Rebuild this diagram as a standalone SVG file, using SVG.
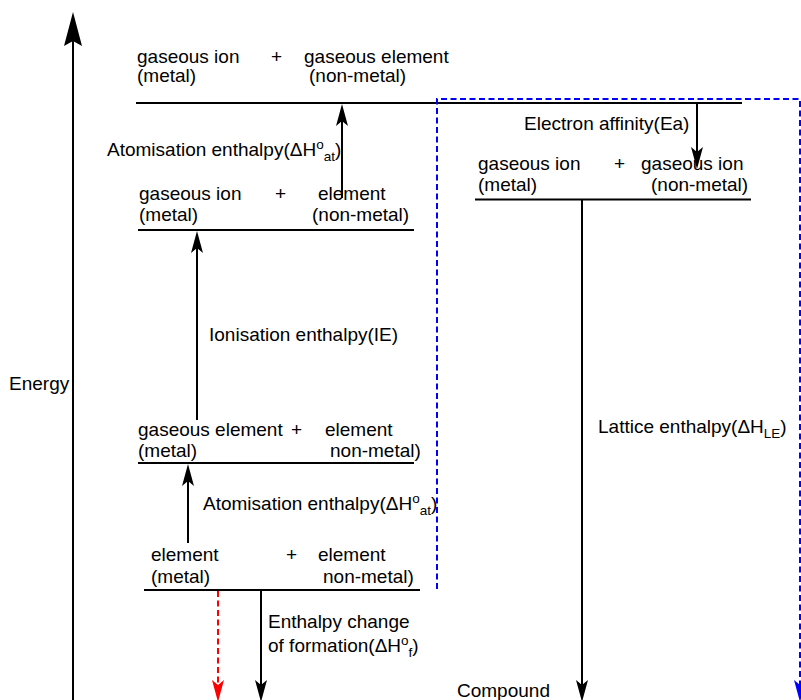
<svg xmlns="http://www.w3.org/2000/svg" width="801" height="700" viewBox="0 0 801 700">
  <style>
    text { font-family: "Liberation Sans", Arial, sans-serif; font-size: 19px; fill: #000; }
    .sm { font-size: 13.5px; }
    .level { stroke: #000; stroke-width: 2; fill: none; }
    .arrow { stroke: #000; stroke-width: 2; fill: none; }
    .red { stroke: #ff0000; stroke-width: 2; fill: none; stroke-dasharray: 6 3.5; }
    .blue { stroke: #0000ff; stroke-width: 2; fill: none; stroke-dasharray: 6 3.5; }
  </style>
  <defs>
    <marker id="head" viewBox="-24 -7 26 14" markerWidth="26" markerHeight="14" refX="-10" refY="0" orient="auto" markerUnits="userSpaceOnUse">
      <path d="M0,0 L-22,-6 L-17,0 L-22,6 Z" fill="#000"/>
    </marker>
    <marker id="head-red" viewBox="-24 -7 26 14" markerWidth="26" markerHeight="14" refX="-10" refY="0" orient="auto" markerUnits="userSpaceOnUse">
      <path d="M0,0 L-22,-6 L-17,0 L-22,6 Z" fill="#ff0000"/>
    </marker>
    <marker id="head-blue" viewBox="-24 -7 26 14" markerWidth="26" markerHeight="14" refX="-10" refY="0" orient="auto" markerUnits="userSpaceOnUse">
      <path d="M0,0 L-22,-6 L-17,0 L-22,6 Z" fill="#0000ff"/>
    </marker>
  </defs>

  <!-- energy axis -->
  <g id="energy-axis">
    <line x1="73" y1="700" x2="73" y2="38" stroke="#000" stroke-width="2"/>
    <path d="M73,12 L64,46 L73,41 L82,46 Z" fill="#000"/>
    <text x="9" y="390">Energy</text>
  </g>

  <!-- top level: gaseous ion + gaseous element -->
  <g id="level-gas-ion-gas-element">
    <text x="137" y="63">gaseous ion</text>
    <text x="137" y="82">(metal)</text>
    <text x="271" y="63">+</text>
    <text x="304" y="63">gaseous element</text>
    <text x="309" y="82">(non-metal)</text>
    <line class="level" x1="136" y1="103" x2="742" y2="103"/>
  </g>

  <!-- gaseous ion + element -->
  <g id="level-gas-ion-element">
    <text x="139" y="200">gaseous ion</text>
    <text x="139" y="221">(metal)</text>
    <text x="275" y="200">+</text>
    <text x="318" y="200">element</text>
    <text x="312" y="221">(non-metal)</text>
    <line class="level" x1="138" y1="230" x2="414" y2="230"/>
  </g>

  <!-- gaseous element + element -->
  <g id="level-gas-element-element">
    <text x="138" y="436">gaseous element</text>
    <text x="138" y="457">(metal)</text>
    <text x="291" y="436">+</text>
    <text x="325" y="436">element</text>
    <text x="330" y="457">non-metal)</text>
    <line class="level" x1="138" y1="463" x2="414" y2="463"/>
  </g>

  <!-- elements in standard state -->
  <g id="level-elements">
    <text x="151" y="561">element</text>
    <text x="151" y="583">(metal)</text>
    <text x="286" y="561">+</text>
    <text x="318" y="561">element</text>
    <text x="323" y="583">non-metal)</text>
    <line class="level" x1="144" y1="590" x2="420" y2="590"/>
  </g>

  <!-- gaseous ion + gaseous ion -->
  <g id="level-gas-ions">
    <text x="478" y="170">gaseous ion</text>
    <text x="478" y="191">(metal)</text>
    <text x="614" y="170">+</text>
    <text x="641" y="170">gaseous ion</text>
    <text x="651" y="191">(non-metal)</text>
    <line class="level" x1="475" y1="199.5" x2="751" y2="199.5"/>
  </g>

  <!-- compound -->
  <g id="level-compound">
    <text x="457" y="697">Compound</text>
  </g>

  <!-- connectors -->
  <g id="connectors">
    <line class="arrow" x1="342" y1="198" x2="342" y2="114" marker-end="url(#head)"/>
    <line class="arrow" x1="197" y1="420" x2="197" y2="241" marker-end="url(#head)"/>
    <line class="arrow" x1="188" y1="543" x2="188" y2="474" marker-end="url(#head)"/>
    <line class="arrow" x1="697" y1="104" x2="697" y2="159" marker-end="url(#head)"/>
    <line class="arrow" x1="582" y1="200" x2="582" y2="692" marker-end="url(#head)"/>
    <line class="arrow" x1="261" y1="591" x2="261" y2="692" marker-end="url(#head)"/>
    <line class="red" x1="218" y1="591" x2="218" y2="692" marker-end="url(#head-red)"/>
    <path class="blue" d="M437,589 L437,99 L800,99 L800,692" marker-end="url(#head-blue)"/>

    <text x="107" y="156">Atomisation enthalpy(ΔH<tspan class="sm" dy="-7">o</tspan><tspan class="sm" dy="12">at</tspan><tspan dy="-5">)</tspan></text>
    <text x="209" y="341">Ionisation enthalpy(IE)</text>
    <text x="203" y="510">Atomisation enthalpy(ΔH<tspan class="sm" dy="-7">o</tspan><tspan class="sm" dy="12">at</tspan><tspan dy="-5">)</tspan></text>
    <text x="524" y="130">Electron affinity(Ea)</text>
    <text x="598" y="433">Lattice enthalpy(ΔH<tspan class="sm" dy="5">LE</tspan><tspan dy="-5">)</tspan></text>
    <text x="268" y="628">Enthalpy change</text>
    <text x="268" y="652">of formation(ΔH<tspan class="sm" dy="-7">o</tspan><tspan class="sm" dy="12">f</tspan><tspan dy="-5">)</tspan></text>
  </g>
</svg>
